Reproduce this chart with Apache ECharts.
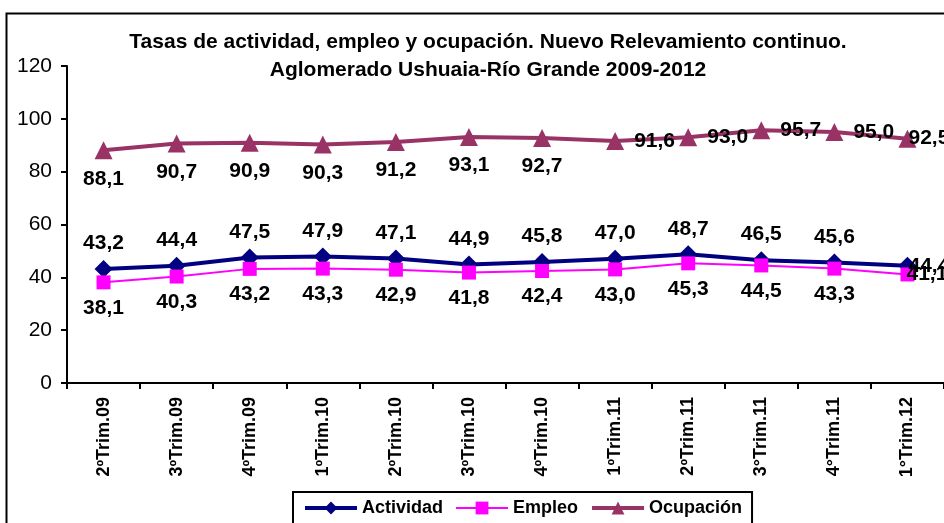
<!DOCTYPE html>
<html><head><meta charset="utf-8">
<script src="https://cdn.jsdelivr.net/npm/echarts@6/dist/echarts.min.js"></script>
<style>html,body{margin:0;padding:0;background:#fff;}#c{width:944px;height:523px;}</style>
</head><body><div id="c"></div>
<script>
var categories = ['2ºTrim.09','3ºTrim.09','4ºTrim.09','1ºTrim.10','2ºTrim.10','3ºTrim.10','4ºTrim.10','1ºTrim.11','2ºTrim.11','3°Trim.11','4°Trim.11','1°Trim.12'];
var actividad = [43.2, 44.4, 47.5, 47.9, 47.1, 44.9, 45.8, 47.0, 48.7, 46.5, 45.6, 44.4];
var empleo = [38.1, 40.3, 43.2, 43.3, 42.9, 41.8, 42.4, 43.0, 45.3, 44.5, 43.3, 41.1];
var ocupacion = [88.1, 90.7, 90.9, 90.3, 91.2, 93.1, 92.7, 91.6, 93.0, 95.7, 95.0, 92.5];
var yTicks = [0, 20, 40, 60, 80, 100, 120];

var ocupLabelPos = ['bottom','bottom','bottom','bottom','bottom','bottom','bottom','right','right','right','right','right'];

var FONT = '"Liberation Sans", Arial, sans-serif';
function fmt(p){ return p.value.toFixed(1).replace('.', ','); }
var labelBase = {show:true, formatter:fmt, color:'#000', fontFamily:FONT, fontWeight:'bold', fontSize:21};

function mkData(vals, posFn){
  return vals.map(function(v,i){
    var d = {value:v};
    var lp = posFn(i);
    if (lp) d.label = lp;
    return d;
  });
}
var last = categories.length - 1;

var chart = echarts.init(document.getElementById('c'), null, {renderer:'canvas'});
chart.setOption({
  animation:false,
  backgroundColor:'#fff',
  title:{
    text:'Tasas de actividad, empleo y ocupación. Nuevo Relevamiento continuo.\nAglomerado Ushuaia-Río Grande 2009-2012',
    left:483, top:23, textAlign:'center',
    textStyle:{fontFamily:FONT, fontWeight:'bold', fontSize:21, lineHeight:28, color:'#000'}
  },
  graphic:[{type:'rect', left:4, top:11, shape:{width:1000, height:600}, style:{fill:null, stroke:'#000', lineWidth:2}, z:-1}],
  grid:{left:67, top:66, width:881, height:317, containLabel:false},
  legend:{
    data:[
      {name:'Actividad', lineStyle:{width:4}},
      {name:'Empleo', lineStyle:{width:2}},
      {name:'Ocupación', lineStyle:{width:4}}
    ],
    left:293, top:492,
    itemWidth:52, itemHeight:16, itemGap:12,
    padding:[7,10,10,10],
    borderColor:'#000', borderWidth:2,
    textStyle:{fontFamily:FONT, fontWeight:'bold', fontSize:18, color:'#000'}
  },
  xAxis:{
    type:'category', data:categories, boundaryGap:true,
    axisLine:{lineStyle:{color:'#000', width:2}},
    axisTick:{show:true, alignWithLabel:false, length:6, lineStyle:{color:'#000', width:2}},
    axisLabel:{rotate:90, fontFamily:FONT, fontWeight:'bold', fontSize:18, color:'#000', margin:14, interval:0}
  },
  yAxis:{
    type:'value', min:0, max:120, interval:20,
    axisLine:{show:true, lineStyle:{color:'#000', width:2}},
    axisTick:{show:true, length:6, lineStyle:{color:'#000', width:2}},
    splitLine:{show:false},
    axisLabel:{fontFamily:FONT, fontSize:21, color:'#000', margin:15,
      formatter:function(v){ return yTicks.indexOf(v) >= 0 ? String(v) : ''; }}
  },
  series:[
    {
      name:'Ocupación', type:'line', data:mkData(ocupacion, function(i){
        return ocupLabelPos[i]==='right' ? {position:'right', distance:i===last?-8:10} : null;
      }),
      symbol:'triangle', symbolSize:18,
      lineStyle:{color:'#993366', width:4}, itemStyle:{color:'#993366'},
      label:Object.assign({}, labelBase, {position:'bottom', distance:9})
    },
    {
      name:'Actividad', type:'line', data:mkData(actividad, function(i){
        return i===last ? {position:'right', distance:-8} : null;
      }),
      symbol:'diamond', symbolSize:18,
      lineStyle:{color:'#000080', width:4}, itemStyle:{color:'#000080'},
      label:Object.assign({}, labelBase, {position:'top', distance:6})
    },
    {
      name:'Empleo', type:'line', data:mkData(empleo, function(i){
        return i===last ? {position:'right', distance:-8} : null;
      }),
      symbol:'rect', symbolSize:14,
      lineStyle:{color:'#FF00FF', width:2}, itemStyle:{color:'#FF00FF'},
      label:Object.assign({}, labelBase, {position:'bottom', distance:8})
    }
  ]
});
</script></body></html>
